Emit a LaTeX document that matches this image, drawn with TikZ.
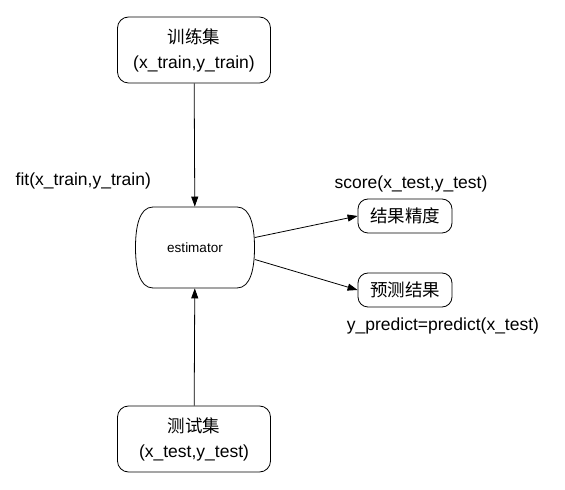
\documentclass[tikz,border=0pt]{standalone}
\usepackage{fontspec}
\setmainfont{Liberation Sans}
\newfontfamily\cjk{Noto Sans CJK SC}
\usetikzlibrary{arrows.meta}

\begin{document}
\begin{tikzpicture}[x=1pt,y=1pt,line width=0.8pt]
        \tikzstyle{dataset} = [draw,rounded corners=11pt,minimum width=153pt,minimum height=66pt,align=center,font=\fontsize{17.5}{25}\selectfont]
        \tikzstyle{result} = [draw,rounded corners=10pt,minimum width=94pt,minimum height=34pt,font=\fontsize{17.5}{22}\selectfont\cjk]
        \tikzstyle{call} = [font=\fontsize{17.5}{22}\selectfont]
        \tikzstyle{flow} = [draw,-{Triangle[length=10pt,width=7pt]}]

        \useasboundingbox (0,0) rectangle (565,490);

        \node[dataset] (train) at (194,440){{\cjk 训练集}\\(x\_train,y\_train)};
        \node[minimum width=119pt,minimum height=81pt,font=\fontsize{13.5}{16}\selectfont] (est) at (195,242.5){estimator};
        \draw[shift={(est.center)}] (-42,40.5) -- (42,40.5) .. controls (56,40.5) and (59.5,20) .. (59.5,0) .. controls (59.5,-20) and (56,-40.5) .. (42,-40.5) -- (-42,-40.5) .. controls (-56,-40.5) and (-59.5,-20) .. (-59.5,0) .. controls (-59.5,20) and (-56,40.5) .. (-42,40.5) -- cycle;
        \node[result] (score) at (405,274){结果精度};
        \node[result] (pred) at (405,200){预测结果};
        \node[dataset] (test) at (194,51){{\cjk 测试集}\\(x\_test,y\_test)};

        \node[call,anchor=west] (fit) at (12,309){fit(x\_train,y\_train)};
        \node[call] (scorecall) at (411,306){score(x\_test,y\_test)};
        \node[call] (predcall) at (443,164){y\_predict=predict(x\_test)};

        %\draw[->] (train.south) -- (est.north);
        \path (train) edge[flow] (est) (test) edge[flow] (est) ([yshift=10pt]est.east) edge[flow] (score.west) ([yshift=-12pt]est.east) edge[flow] (pred.west);

    \end{tikzpicture}
\end{document}
